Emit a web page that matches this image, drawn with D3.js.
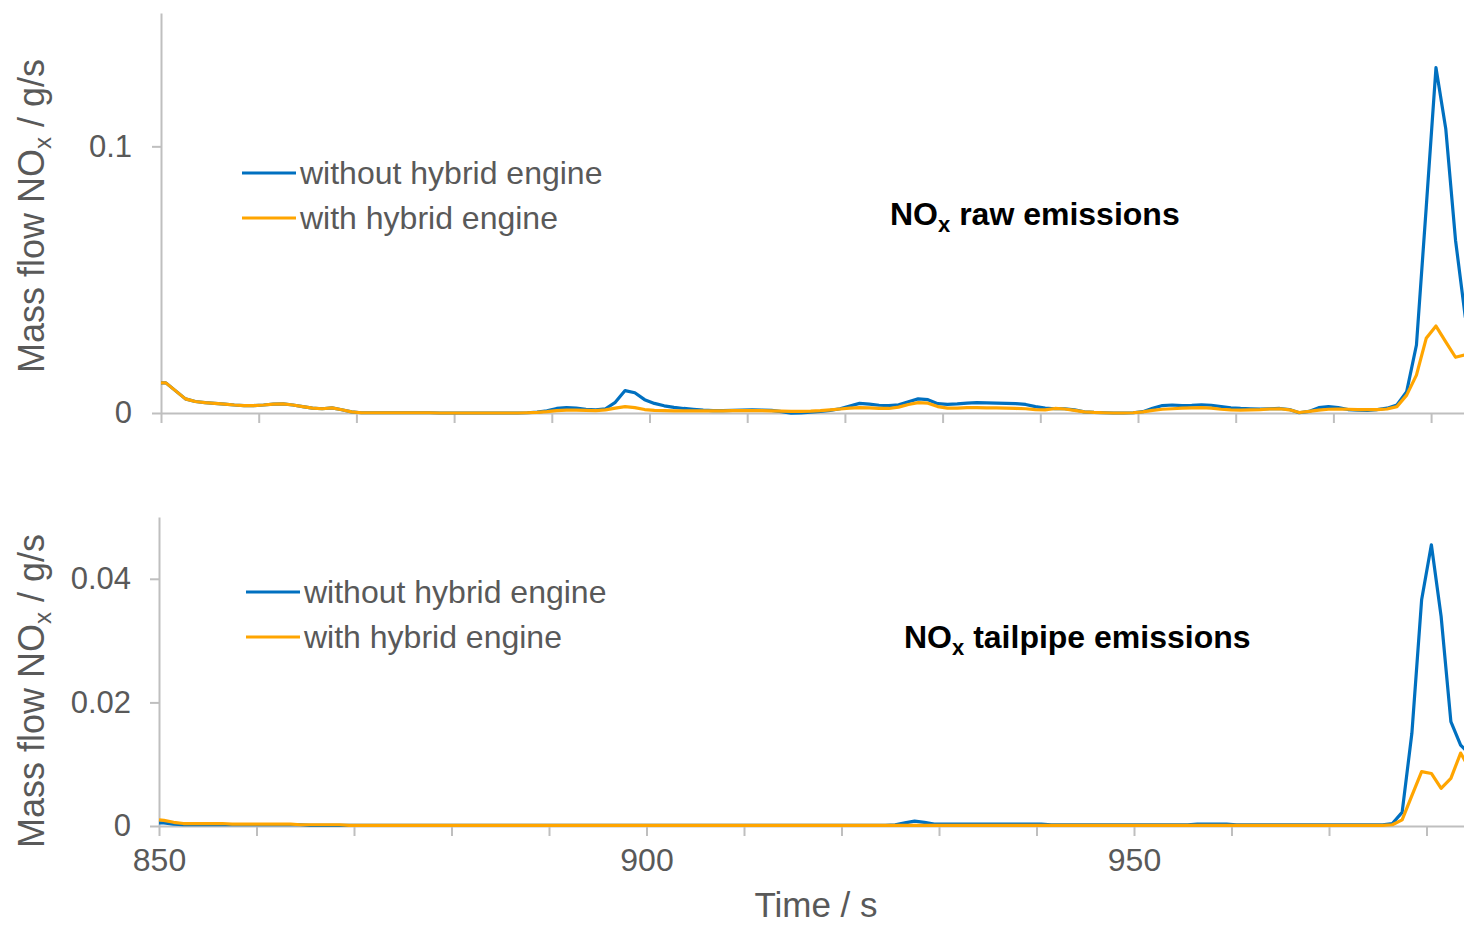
<!DOCTYPE html>
<html>
<head>
<meta charset="utf-8">
<script src="https://cdn.jsdelivr.net/npm/d3@7"></script>
<style>
  body { margin: 0; background: #fff; }
  svg { display: block; }
  text { font-family: "Liberation Sans", Arial, sans-serif; }
</style>
</head>
<body>
<svg id="chart" width="1464" height="925"></svg>
<script>
// Sampling grid: start point, then 1 Hz samples
const times = [850, ...d3.range(850.5, 985, 1)];

// NOx raw emissions, g/s
const rawWithout = [
  0.0113, 0.0113, 0.0083, 0.0053, 0.0043, 0.0039, 0.0036, 0.0033, 0.0030, 0.0028,
  0.0028, 0.0030, 0.0033, 0.0034, 0.0030, 0.0024, 0.0018, 0.0016, 0.0019, 0.0012,
  0.0004, 0.0001, 0.0001, 0.0001, 0.0001, 0.0001, 0.0001, 0.0001, 0.0001, 0.0000,
  0.0000, 0.0000, 0.0000, 0.0000, 0.0000, 0.0000, 0.0000, 0.0000, 0.0001, 0.0003,
  0.0008, 0.0017, 0.0020, 0.0018, 0.0014, 0.0012, 0.0016, 0.0040, 0.0084, 0.0076,
  0.0050, 0.0036, 0.0027, 0.0021, 0.0017, 0.0014, 0.0011, 0.0009, 0.0009, 0.0010,
  0.0011, 0.0012, 0.0011, 0.0010, 0.0005, -0.0001, 0.0000, 0.0003, 0.0006, 0.0010,
  0.0016, 0.0026, 0.0036, 0.0033, 0.0029, 0.0028, 0.0031, 0.0042, 0.0053, 0.0050,
  0.0035, 0.0032, 0.0034, 0.0037, 0.0039, 0.0038, 0.0037, 0.0036, 0.0035, 0.0032,
  0.0024, 0.0018, 0.0016, 0.0016, 0.0012, 0.0004, 0.0002, 0.0001, 0.0000, 0.0000,
  0.0001, 0.0005, 0.0018, 0.0028, 0.0030, 0.0028, 0.0029, 0.0031, 0.0029, 0.0024,
  0.0019, 0.0017, 0.0016, 0.0015, 0.0016, 0.0017, 0.0013, 0.0001, 0.0006, 0.0020,
  0.0024, 0.0020, 0.0013, 0.0011, 0.0010, 0.0013, 0.0018, 0.0030, 0.0080, 0.0255,
  0.0770, 0.1295, 0.1066, 0.0648, 0.0360, 0.0220
];
const rawWith = [
  0.0113, 0.0113, 0.0083, 0.0053, 0.0043, 0.0039, 0.0036, 0.0033, 0.0030, 0.0028,
  0.0028, 0.0030, 0.0033, 0.0034, 0.0030, 0.0024, 0.0018, 0.0016, 0.0019, 0.0012,
  0.0004, 0.0001, 0.0001, 0.0001, 0.0001, 0.0001, 0.0001, 0.0001, 0.0001, 0.0000,
  0.0000, 0.0000, 0.0000, 0.0000, 0.0000, 0.0000, 0.0000, 0.0000, 0.0001, 0.0002,
  0.0005, 0.0009, 0.0011, 0.0011, 0.0010, 0.0009, 0.0012, 0.0018, 0.0024, 0.0020,
  0.0013, 0.0010, 0.0009, 0.0008, 0.0008, 0.0008, 0.0008, 0.0008, 0.0008, 0.0009,
  0.0009, 0.0009, 0.0009, 0.0008, 0.0007, 0.0006, 0.0006, 0.0007, 0.0009, 0.0012,
  0.0015, 0.0018, 0.0020, 0.0019, 0.0017, 0.0017, 0.0022, 0.0032, 0.0039, 0.0037,
  0.0024, 0.0018, 0.0018, 0.0020, 0.0020, 0.0019, 0.0019, 0.0018, 0.0017, 0.0016,
  0.0013, 0.0012, 0.0017, 0.0015, 0.0010, 0.0004, 0.0002, 0.0001, 0.0000, 0.0000,
  0.0001, 0.0004, 0.0010, 0.0014, 0.0016, 0.0018, 0.0019, 0.0020, 0.0018, 0.0014,
  0.0012, 0.0011, 0.0012, 0.0013, 0.0015, 0.0016, 0.0012, 0.0002, 0.0006, 0.0011,
  0.0014, 0.0015, 0.0014, 0.0013, 0.0013, 0.0013, 0.0015, 0.0024, 0.0067, 0.0142,
  0.0280, 0.0326, 0.0267, 0.0209, 0.0218, 0.0222
];

// NOx tailpipe emissions, g/s
const tailWithout = [
  0.0005, 0.0005, 0.0003, 0.0002, 0.0002, 0.0002, 0.0002, 0.0002, 0.0002, 0.0002,
  0.0002, 0.0002, 0.0002, 0.0002, 0.0002, 0.0002, 0.0001, 0.0001, 0.0001, 0.0001,
  0.0001, 0.0001, 0.0001, 0.0001, 0.0001, 0.0001, 0.0001, 0.0001, 0.0001, 0.0001,
  0.0001, 0.0001, 0.0001, 0.0001, 0.0001, 0.0001, 0.0001, 0.0001, 0.0001, 0.0001,
  0.0001, 0.0001, 0.0001, 0.0001, 0.0001, 0.0001, 0.0001, 0.0001, 0.0001, 0.0001,
  0.0001, 0.0001, 0.0001, 0.0001, 0.0001, 0.0001, 0.0001, 0.0001, 0.0001, 0.0001,
  0.0001, 0.0001, 0.0001, 0.0001, 0.0001, 0.0001, 0.0001, 0.0001, 0.0001, 0.0001,
  0.0001, 0.0001, 0.0001, 0.0001, 0.0001, 0.0001, 0.0002, 0.0005, 0.0008, 0.0006,
  0.0003, 0.0003, 0.0003, 0.0003, 0.0003, 0.0003, 0.0003, 0.0003, 0.0003, 0.0003,
  0.0003, 0.0003, 0.0002, 0.0002, 0.0002, 0.0002, 0.0002, 0.0002, 0.0002, 0.0002,
  0.0002, 0.0002, 0.0002, 0.0002, 0.0002, 0.0002, 0.0002, 0.0003, 0.0003, 0.0003,
  0.0003, 0.0002, 0.0002, 0.0002, 0.0002, 0.0002, 0.0002, 0.0002, 0.0002, 0.0002,
  0.0002, 0.0002, 0.0002, 0.0002, 0.0002, 0.0002, 0.0002, 0.0004, 0.0022, 0.0150,
  0.0366, 0.0455, 0.0339, 0.0169, 0.0131, 0.0115
];
const tailWith = [
  0.0010, 0.0009, 0.0006, 0.0004, 0.0004, 0.0004, 0.0004, 0.0004, 0.0003, 0.0003,
  0.0003, 0.0003, 0.0003, 0.0003, 0.0003, 0.0002, 0.0002, 0.0002, 0.0002, 0.0002,
  0.0001, 0.0001, 0.0001, 0.0001, 0.0001, 0.0001, 0.0001, 0.0001, 0.0001, 0.0001,
  0.0001, 0.0001, 0.0001, 0.0001, 0.0001, 0.0001, 0.0001, 0.0001, 0.0001, 0.0001,
  0.0001, 0.0001, 0.0001, 0.0001, 0.0001, 0.0001, 0.0001, 0.0001, 0.0001, 0.0001,
  0.0001, 0.0001, 0.0001, 0.0001, 0.0001, 0.0001, 0.0001, 0.0001, 0.0001, 0.0001,
  0.0001, 0.0001, 0.0001, 0.0001, 0.0001, 0.0001, 0.0001, 0.0001, 0.0001, 0.0001,
  0.0001, 0.0001, 0.0001, 0.0001, 0.0001, 0.0001, 0.0001, 0.0001, 0.0001, 0.0001,
  0.0001, 0.0001, 0.0001, 0.0001, 0.0001, 0.0001, 0.0001, 0.0001, 0.0001, 0.0001,
  0.0001, 0.0001, 0.0001, 0.0001, 0.0001, 0.0001, 0.0001, 0.0001, 0.0001, 0.0001,
  0.0001, 0.0001, 0.0001, 0.0001, 0.0001, 0.0001, 0.0001, 0.0001, 0.0001, 0.0001,
  0.0001, 0.0001, 0.0001, 0.0001, 0.0001, 0.0001, 0.0001, 0.0001, 0.0001, 0.0001,
  0.0001, 0.0001, 0.0001, 0.0001, 0.0001, 0.0001, 0.0001, 0.0002, 0.0010, 0.0049,
  0.0088, 0.0085, 0.0061, 0.0077, 0.0118, 0.0090
];

const seriesNames = ["without hybrid engine", "with hybrid engine"];
const colors = ["#0070C0", "#FFA500"];
const xTickValues = d3.range(850, 1000, 10);
const xLabelValues = [850, 900, 950];
const rawTicks = [0, 0.1];
const tailTicks = [0, 0.02, 0.04];

const svg = d3.select("#chart");
const axisColor = "#BFBFBF";
const textColor = "#595959";

function drawPanel(p) {
  const x = d3.scaleLinear().domain([850, 1000]).range(p.xRange);
  const y = d3.scaleLinear().domain(p.yDomain).range(p.yRange);
  const g = svg.append("g");

  // x axis
  const xa = g.append("g")
    .attr("transform", `translate(0,${y(0)})`)
    .call(d3.axisBottom(x).tickValues(xTickValues).tickSize(10).tickSizeOuter(0)
      .tickPadding(12)
      .tickFormat(d => (p.xLabels && xLabelValues.includes(d)) ? d : ""));
  xa.select(".domain").attr("stroke", axisColor).attr("stroke-width", 2);
  xa.selectAll(".tick line").attr("stroke", axisColor).attr("stroke-width", 2);
  xa.selectAll(".tick text").attr("fill", textColor).attr("font-size", 32)
    .attr("font-family", "Liberation Sans, Arial, sans-serif");

  // y axis
  const ya = g.append("g")
    .attr("transform", `translate(${p.xRange[0]},0)`)
    .call(d3.axisLeft(y).tickValues(p.yTicks).tickSize(9).tickSizeOuter(0)
      .tickPadding(p.yPad).tickFormat(d => d === 0 ? "0" : String(d)));
  ya.select(".domain").attr("stroke", axisColor).attr("stroke-width", 2);
  ya.selectAll(".tick line").attr("stroke", axisColor).attr("stroke-width", 2);
  ya.selectAll(".tick text").attr("fill", textColor).attr("font-size", 31)
    .attr("font-family", "Liberation Sans, Arial, sans-serif");

  // y axis title with subscript
  const yt = g.append("text")
    .attr("transform", `translate(${p.yTitle[0]},${p.yTitle[1]}) rotate(-90)`)
    .attr("text-anchor", "middle")
    .attr("fill", textColor)
    .attr("font-size", 36);
  yt.append("tspan").text("Mass flow NO");
  yt.append("tspan").text("x").attr("font-size", 24).attr("dy", 7);
  yt.append("tspan").text(" / g/s").attr("dy", -7);

  // series lines
  const line = d3.line().x((d, i) => x(times[i])).y(d => y(d));
  p.series.forEach((s, k) => {
    g.append("path").datum(s)
      .attr("fill", "none")
      .attr("stroke", colors[k])
      .attr("stroke-width", 3.2)
      .attr("stroke-linejoin", "round")
      .attr("d", line);
  });

  // legend
  seriesNames.forEach((name, k) => {
    const ly = p.legend[1] + k * p.legendGap;
    g.append("line")
      .attr("x1", p.legend[0]).attr("x2", p.legend[0] + 54)
      .attr("y1", ly).attr("y2", ly)
      .attr("stroke", colors[k]).attr("stroke-width", 3);
    g.append("text")
      .attr("x", p.legend[0] + 58).attr("y", ly + 11)
      .attr("fill", textColor).attr("font-size", 32)
      .text(name);
  });

  // panel title
  const tt = g.append("text")
    .attr("x", p.title[0]).attr("y", p.title[1])
    .attr("fill", "#000").attr("font-weight", "bold").attr("font-size", 32);
  tt.append("tspan").text("NO");
  tt.append("tspan").text("x").attr("font-size", 22).attr("dy", 7);
  tt.append("tspan").text(p.titleText).attr("dy", -7);
}

drawPanel({
  xRange: [161, 161 + 150 * 9.77],
  yDomain: [0, 0.15], yRange: [413, 13],
  yTicks: rawTicks, yPad: 20,
  series: [rawWithout, rawWith],
  xLabels: false,
  yTitle: [44, 216],
  legend: [242, 173], legendGap: 45,
  title: [890, 225], titleText: " raw emissions"
});

drawPanel({
  xRange: [159, 159 + 150 * 9.75],
  yDomain: [0, 0.05], yRange: [826, 517],
  yTicks: tailTicks, yPad: 19,
  series: [tailWithout, tailWith],
  xLabels: true,
  yTitle: [44, 691],
  legend: [246, 592], legendGap: 45,
  title: [904, 648], titleText: " tailpipe emissions"
});

// shared x axis title
svg.append("text")
  .attr("x", 816).attr("y", 917)
  .attr("text-anchor", "middle")
  .attr("fill", textColor).attr("font-size", 35)
  .text("Time / s");
</script>
</body>
</html>
